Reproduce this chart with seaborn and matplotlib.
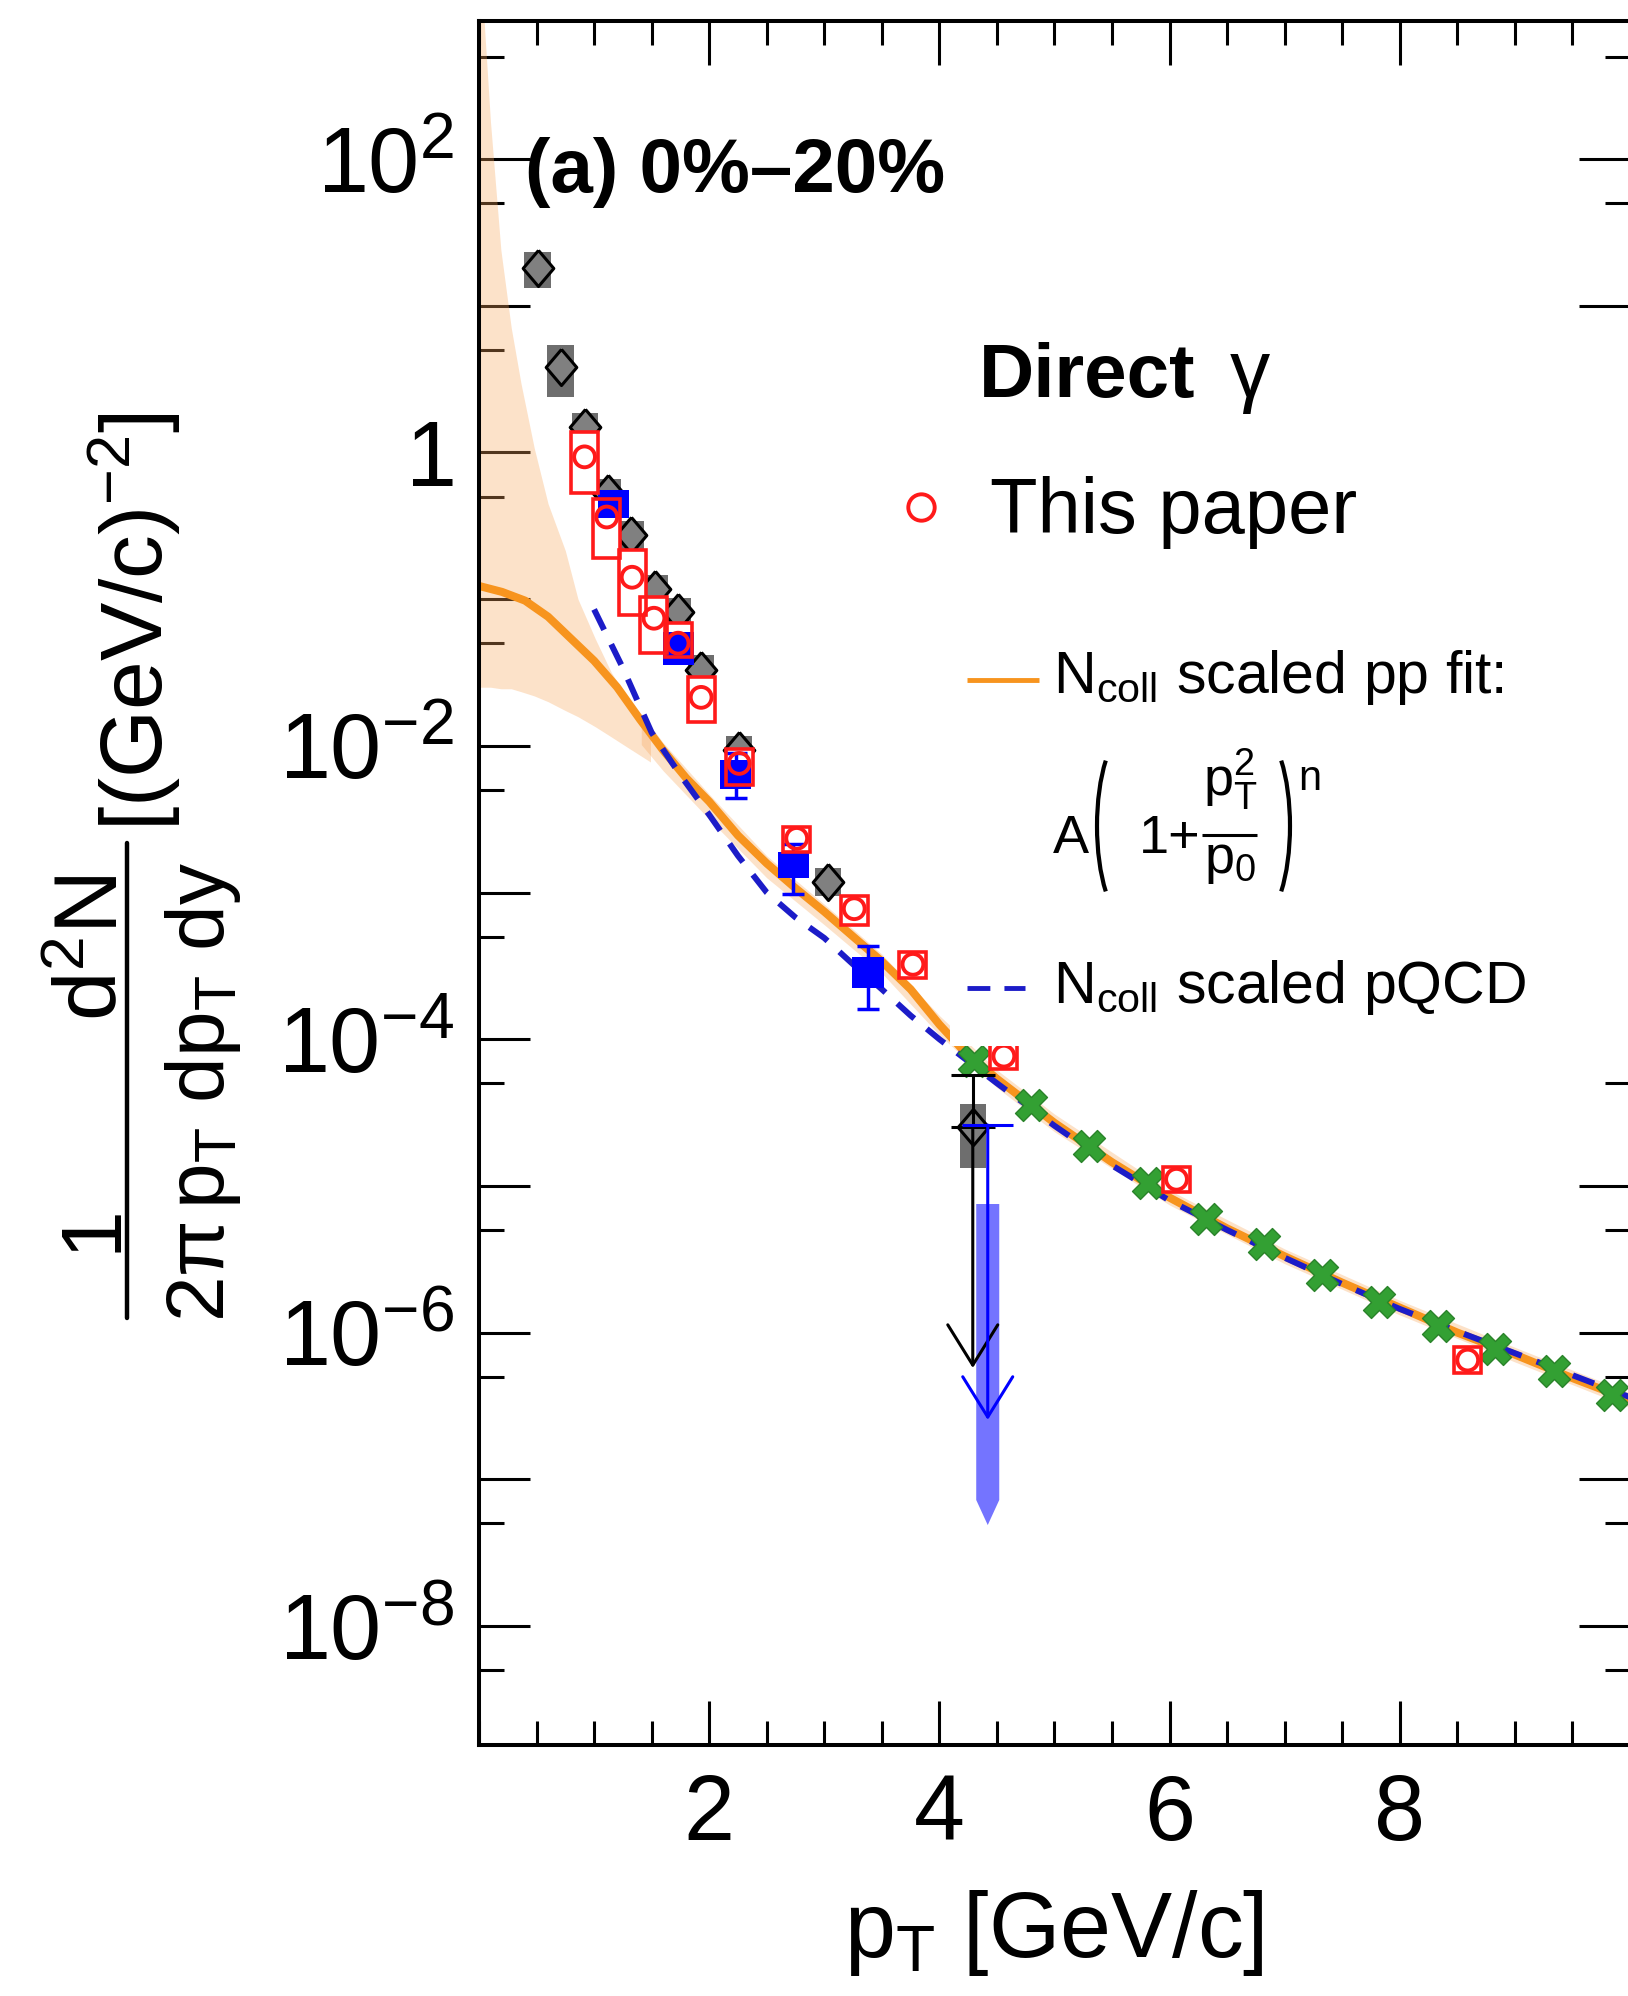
import matplotlib
matplotlib.use("Agg")
import matplotlib.pyplot as plt
from matplotlib.lines import Line2D
from matplotlib.patches import Rectangle, FancyArrowPatch, Arc
from matplotlib.ticker import (FixedLocator, LogLocator, MultipleLocator,
                               FuncFormatter, NullFormatter)
import numpy as np
import seaborn as sns

# ---------------- data ----------------
# N_coll scaled p+p fit: central curve
fit_pt = [0.0, 0.2, 0.4, 0.6, 0.8, 1.0, 1.2, 1.4, 1.6, 1.8, 2.0, 2.25, 2.5, 2.75,
          3.0, 3.25, 3.5, 3.75, 4.0, 4.2, 4.5, 4.75, 5.0, 5.5, 6.0, 6.5, 7.0, 7.5,
          8.0, 8.5, 9.0, 9.5, 10.0]
fit_y = [1.23e-1, 1.12e-1, 9.77e-2, 7.59e-2, 5.37e-2, 3.80e-2, 2.51e-2, 1.51e-2,
         9.33e-3, 6.03e-3, 4.17e-3, 2.45e-3, 1.58e-3, 1.07e-3, 7.41e-4, 5.01e-4,
         3.39e-4, 2.19e-4, 1.26e-4, 8.51e-5, 5.37e-5, 3.80e-5, 2.69e-5, 1.45e-5,
         8.32e-6, 5.13e-6, 3.31e-6, 2.19e-6, 1.48e-6, 1.00e-6, 7.08e-7, 4.90e-7,
         3.47e-7]

# fit uncertainty band, low-pT piece
band1_pt = [0.0, 0.05, 0.1, 0.19, 0.28, 0.365, 0.48, 0.60, 0.75, 0.86, 1.01,
            1.15, 1.29, 1.41, 1.49]
band1_lo = [2.51e-2, 2.51e-2, 2.51e-2, 2.45e-2, 2.45e-2, 2.34e-2, 2.19e-2, 2.00e-2,
            1.74e-2, 1.58e-2, 1.35e-2, 1.15e-2, 9.77e-3, 8.51e-3, 7.76e-3]
band1_hi = [3.98e3, 7.41e2, 1.78e2, 2.40e1, 7.08, 2.95, 1.07, 4.47e-1, 2.14e-1,
            1.00e-1, 5.37e-2, 3.16e-2, 2.14e-2, 1.58e-2, 1.38e-2]
# fit uncertainty band, high-pT piece
band2_pt = [1.41, 1.6, 2.0, 2.5, 3.0, 3.5, 4.0, 4.5, 5.0, 6.0, 7.0, 8.0, 9.0, 10.0]
band2_lo = [1.02e-2, 6.76e-3, 3.16e-3, 1.26e-3, 6.03e-4, 2.82e-4, 1.07e-4, 4.68e-5,
            2.34e-5, 7.41e-6, 2.95e-6, 1.32e-6, 6.31e-7, 3.09e-7]
band2_hi = [1.66e-2, 1.05e-2, 4.68e-3, 1.78e-3, 8.32e-4, 3.80e-4, 1.45e-4, 6.17e-5,
            3.09e-5, 9.33e-6, 3.72e-6, 1.66e-6, 7.94e-7, 3.89e-7]

# N_coll scaled pQCD
pqcd_pt = [1.0, 1.25, 1.5, 1.75, 2.0, 2.25, 2.5, 2.75, 3.0, 3.25, 3.5, 3.75, 4.0,
           4.25, 4.5, 5.0, 5.5, 6.0, 6.5, 7.0, 7.5, 8.0, 8.5, 9.0, 9.5, 10.0]
pqcd_y = [8.51e-2, 3.39e-2, 1.23e-2, 6.31e-3, 3.39e-3, 1.78e-3, 1.00e-3, 6.76e-4,
          4.90e-4, 3.24e-4, 2.19e-4, 1.45e-4, 1.00e-4, 7.08e-5, 5.01e-5, 2.57e-5,
          1.38e-5, 7.94e-6, 5.01e-6, 3.24e-6, 2.14e-6, 1.45e-6, 1.02e-6, 7.24e-7,
          5.13e-7, 3.63e-7]

# this paper (open red circles with systematic boxes)
red_pt = [0.917, 1.11, 1.33, 1.52, 1.73, 1.93, 2.26, 2.76, 3.26, 3.77, 4.56, 6.06, 8.59]
red_y = [0.933, 0.363, 0.141, 0.0741, 0.0501, 0.0214, 7.59e-3, 2.34e-3, 7.76e-4,
         3.24e-4, 7.67e-5, 1.11e-5, 6.50e-7]
red_sys_lo = [0.528, 0.191, 0.0780, 0.0430, 0.0403, 0.0145, 5.37e-3, 1.90e-3,
              5.97e-4, 2.63e-4, 6.31e-5, 9.16e-6, 5.28e-7]
red_sys_hi = [1.38, 0.479, 0.216, 0.103, 0.0687, 0.0295, 9.59e-3, 2.78e-3,
              9.44e-4, 3.93e-4, 9.33e-5, 1.355e-5, 7.94e-7]

# grey diamonds
gray_pt = [0.51, 0.71, 0.92, 1.12, 1.32, 1.53, 1.73, 1.93, 2.26, 3.03, 4.29]
gray_y = [18.1, 3.80, 1.48, 0.525, 0.275, 0.1175, 0.0813, 0.0331, 9.33e-3, 1.175e-3, 2.52e-5]
gray_sys_lo = [13.2, 2.39, 1.18, 0.42, 0.22, 0.094, 0.065, 0.0265, 7.5e-3, 9.4e-4, 1.32e-5]
gray_sys_hi = [23.2, 5.40, 1.85, 0.66, 0.34, 0.146, 0.102, 0.0414, 1.17e-2, 1.46e-3, 3.61e-5]
gray_lim_pt = 4.29
gray_lim_y = 2.52e-5
gray_lim_stat_hi = 5.70e-5
gray_lim_arrow_to = 5.74e-7

# blue squares
blue_pt = [1.17, 1.73, 2.23, 2.73, 3.38]
blue_y = [0.436, 0.0501, 6.70e-3, 1.53e-3, 2.90e-4]
blue_sys_lo = [0.356, 0.0355, 5.06e-3, 1.25e-3, 2.24e-4]
blue_sys_hi = [0.553, 0.0597, 8.02e-3, 1.90e-3, 3.62e-4]
blue_stat_lo = [0.41, 0.047, 4.4e-3, 9.8e-4, 1.60e-4]
blue_stat_hi = [0.46, 0.053, 8.9e-3, 2.14e-3, 4.34e-4]
blue_lim_pt = 4.42
blue_lim_y = 2.60e-5
blue_lim_arrow_to = 2.54e-7
blue_lim_band = [7.53e-6, 7.23e-8, 4.88e-8]   # top, start of tip, tip

# green crosses
green_pt = [4.30, 4.80, 5.30, 5.81, 6.32, 6.82, 7.32, 7.82, 8.33, 8.83, 9.34, 9.84]
green_y = [7.10e-5, 3.56e-5, 1.87e-5, 1.05e-5, 5.94e-6, 4.02e-6, 2.47e-6, 1.62e-6,
           1.11e-6, 7.73e-7, 5.47e-7, 3.76e-7]

# ---------------- style ----------------
sns.set_theme(style="ticks")
plt.rcParams["font.family"] = ["Liberation Sans", "DejaVu Sans"]
plt.rcParams.update({
    "mathtext.fontset": "custom",
    "mathtext.rm": "Liberation Sans",
    "mathtext.it": "Liberation Sans",
    "mathtext.bf": "Liberation Sans:bold",
    "mathtext.sf": "Liberation Sans",
    "axes.linewidth": 2.9,
    "axes.edgecolor": "black",
    "text.color": "black",
    "xtick.color": "black",
    "ytick.color": "black",
})

ORANGE = "#f7941e"
BAND = "#f8a75c"
DBLUE = "#1c1cc8"
RED = "#ff1a1a"
BLUE = "#0000ff"
GREEN = "#33a033"

# wide diamond used for the grey points
WIDE_DIAMOND = [(0, 1), (0.85, 0), (0, -1), (-0.85, 0), (0, 1)]

W, H = 1628, 1996
fig = plt.figure(figsize=(W / 100, H / 100), dpi=100)
ax = fig.add_axes([479 / W, 1 - 1745 / H, 1151 / W, 1724 / H])
ax.set_yscale("log")
ax.set_xlim(0, 10)
ax.set_ylim(10 ** -8.811, 10 ** 2.941)

# fit band and curves
ax.fill_between(band1_pt, band1_lo, band1_hi, color=BAND, alpha=0.33, lw=0, zorder=1)
ax.fill_between(band2_pt, band2_lo, band2_hi, color=BAND, alpha=0.33, lw=0, zorder=1)
sns.lineplot(x=fit_pt, y=fit_y, ax=ax, color=ORANGE, linewidth=5.8,
             estimator=None, sort=False, zorder=2)
sns.lineplot(x=pqcd_pt, y=pqcd_y, ax=ax, color=DBLUE, linewidth=4.3,
             linestyle=(0, (3.8, 2.7)), estimator=None, sort=False, zorder=3)

# green crosses
sns.scatterplot(x=green_pt, y=green_y, ax=ax, marker="X", s=23 ** 2, color=GREEN,
                edgecolor="#2a832a", linewidth=1.0, zorder=4)

# grey diamonds with systematic boxes
for x, lo, hi in zip(gray_pt, gray_sys_lo, gray_sys_hi):
    ax.add_patch(Rectangle((x - 0.115, lo), 0.23, hi - lo, facecolor="#6e6e6e",
                           edgecolor="none", zorder=5))
sns.scatterplot(x=gray_pt, y=gray_y, ax=ax, marker=WIDE_DIAMOND, s=26 ** 2,
                color="#808080", edgecolor="black", linewidth=2.2, zorder=6)
ax.errorbar([gray_lim_pt], [gray_lim_y], yerr=[[0], [gray_lim_stat_hi - gray_lim_y]],
            fmt="none", ecolor="black", elinewidth=2.2, capsize=15.5, capthick=2.2,
            zorder=6)
ax.add_patch(FancyArrowPatch((gray_lim_pt, gray_lim_y), (gray_lim_pt, gray_lim_arrow_to),
                             arrowstyle="->,head_length=29,head_width=18",
                             mutation_scale=1, lw=2.2, color="black",
                             shrinkA=0, shrinkB=0, zorder=6))

# blue upper limit with its systematic arrow band
bx = blue_lim_pt
ax.fill([bx - 0.1, bx + 0.1, bx + 0.1, bx, bx - 0.1],
        [blue_lim_band[0], blue_lim_band[0], blue_lim_band[1], blue_lim_band[2],
         blue_lim_band[1]], color="#7474ff", lw=0, zorder=5.5)
ax.hlines(blue_lim_y, bx - 0.22, bx + 0.22, color=BLUE, lw=2.2, zorder=7)
ax.add_patch(FancyArrowPatch((bx, blue_lim_y), (bx, blue_lim_arrow_to),
                             arrowstyle="->,head_length=29,head_width=18",
                             mutation_scale=1, lw=2.2, color=BLUE,
                             shrinkA=0, shrinkB=0, zorder=7))

# white interior of the red systematic boxes
for x, lo, hi in zip(red_pt, red_sys_lo, red_sys_hi):
    ax.add_patch(Rectangle((x - 0.1175, lo), 0.235, hi - lo, facecolor="white",
                           edgecolor="none", zorder=6.5))

# blue squares
for x, lo, hi in zip(blue_pt, blue_sys_lo, blue_sys_hi):
    ax.add_patch(Rectangle((x - 0.135, lo), 0.27, hi - lo, facecolor=BLUE,
                           edgecolor="none", zorder=7))
ax.errorbar(blue_pt, blue_y,
            yerr=[np.subtract(blue_y, blue_stat_lo), np.subtract(blue_stat_hi, blue_y)],
            fmt="none", ecolor=BLUE, elinewidth=2.5, capsize=8, capthick=2.5, zorder=7.5)
sns.scatterplot(x=blue_pt, y=blue_y, ax=ax, marker="s", s=16 ** 2, color=BLUE,
                edgecolor=BLUE, linewidth=0, zorder=7.6)

# red systematic box outlines and open circles
for x, lo, hi in zip(red_pt, red_sys_lo, red_sys_hi):
    ax.add_patch(Rectangle((x - 0.1175, lo), 0.235, hi - lo, facecolor="none",
                           edgecolor=RED, lw=2.6, zorder=9))
sns.scatterplot(x=red_pt, y=red_y, ax=ax, marker="o", s=15 ** 2, color=RED,
                edgecolor=RED, linewidth=2.8, zorder=10)
ax.collections[-1].set_facecolor("none")

# ---------------- axes ----------------
ax.xaxis.set_major_locator(FixedLocator([2, 4, 6, 8]))
ax.xaxis.set_minor_locator(MultipleLocator(0.5))
ax.xaxis.set_major_formatter(FuncFormatter(lambda v, p: f"{v:g}"))
ax.yaxis.set_major_locator(LogLocator(base=10, numticks=40))
ax.yaxis.set_minor_locator(LogLocator(base=10, subs=[5.0], numticks=40))
ax.yaxis.set_minor_formatter(NullFormatter())


def decade_label(v, pos):
    e = int(round(np.log10(v)))
    if e % 2:
        return ""
    if e == 0:
        return "$1$"
    return r"$10^{%d}$" % e


ax.yaxis.set_major_formatter(FuncFormatter(decade_label))
ax.tick_params(axis="x", which="major", direction="in", length=31.7, width=2.2,
               top=True, bottom=True, labelsize=66, pad=20)
ax.tick_params(axis="x", which="minor", direction="in", length=17.3, width=2.2,
               top=True, bottom=True)
ax.tick_params(axis="y", which="major", direction="in", length=36.7, width=2.2,
               left=True, right=True, labelsize=66, pad=18)
ax.tick_params(axis="y", which="minor", direction="in", length=18, width=2.2,
               left=True, right=True)
ax.set_xlabel("")
ax.set_ylabel("")

# x title
fig.text(0.6474, 0.0195, r"p$_{T}$ [GeV/c]", ha="center", va="baseline", fontsize=66)


# y title, assembled as a stacked fraction read bottom-to-top
def ytitle_part(px, py, s, size):
    fig.text(px / W, 1 - py / H, s, rotation=90, rotation_mode="anchor",
             ha="center", va="baseline", fontsize=size)


ytitle_part(115, 1228, "1", 62)
ytitle_part(118, 948, r"d$^{2}$N", 64)
fig.add_artist(Line2D([127 / W, 127 / W], [1 - 843 / H, 1 - 1318 / H],
                      lw=3.2, color="black", transform=fig.transFigure))
ytitle_part(224, 1092, r"2$\pi\,$p$_{T}$ dp$_{T}$ dy", 59)
ytitle_part(163, 622, r"[(GeV/c)$^{-2}$]", 63)

# ---------------- annotations and legend ----------------
def ax_xy(px, py):
    return (px - 479) / 1151, (1745 - py) / 1724


ax.add_patch(Rectangle((0.409, 0.4055), 0.6, 0.42, transform=ax.transAxes,
                       facecolor="white", edgecolor="none", zorder=15))
ax.text(0.040, 0.9008, "(a) 0%–20%", transform=ax.transAxes, fontsize=55,
        fontweight="bold", ha="left", va="baseline", zorder=20)
ax.text(0.4344, 0.7819, "Direct", transform=ax.transAxes, fontsize=55,
        fontweight="bold", ha="left", va="baseline", zorder=20)
ax.text(0.6525, 0.7819, "γ", transform=ax.transAxes, fontsize=58,
        ha="left", va="baseline", zorder=20)
ax.plot([0.384], [0.7181], "o", transform=ax.transAxes, mfc="none", mec=RED,
        ms=19, mew=2.8, zorder=20, clip_on=False)
ax.text(0.444, 0.703, "This paper", transform=ax.transAxes, fontsize=56,
        ha="left", va="baseline", zorder=20)
ax.plot([0.424, 0.4865], [0.6177, 0.6177], transform=ax.transAxes, color=ORANGE,
        lw=3.5, zorder=20, solid_capstyle="butt")
ax.text(0.4987, 0.6102, r"N$_{\rm coll}$ scaled pp fit:", transform=ax.transAxes,
        fontsize=42.5, ha="left", va="baseline", zorder=20)

# fit formula A(1 + pT^2/p0)^n
fkw = dict(transform=ax.transAxes, va="baseline", zorder=20)
ax.text(*ax_xy(1053, 853), "A", ha="left", fontsize=39, **fkw)
ax.text(*ax_xy(1139, 853), "1+", ha="left", fontsize=39, **fkw)
ax.text(*ax_xy(1230, 796), r"p$_{T}^{2}$", ha="center", fontsize=39, **fkw)
ax.text(*ax_xy(1230, 873), r"p$_{0}$", ha="center", fontsize=39, **fkw)
ax.text(*ax_xy(1298, 790), "n", ha="left", fontsize=30, **fkw)
bx0, by0 = ax_xy(1202, 835)
bx1, _ = ax_xy(1257, 835)
ax.plot([bx0, bx1], [by0, by0], transform=ax.transAxes, color="black", lw=2.2,
        zorder=20, solid_capstyle="butt")
pw, ph = 64 / 1151, 190 / 1724
ax.add_patch(Arc(ax_xy(1129, 826), pw, ph, theta1=118, theta2=242,
                 transform=ax.transAxes, color="black", lw=3.0, zorder=20))
ax.add_patch(Arc(ax_xy(1258, 826), pw, ph, theta1=-62, theta2=62,
                 transform=ax.transAxes, color="black", lw=3.0, zorder=20))

ax.plot([0.424, 0.474], [0.439, 0.439], transform=ax.transAxes, color=DBLUE,
        lw=3.5, linestyle=(0, (4.7, 2.9)), zorder=20, dash_capstyle="butt")
ax.text(0.4987, 0.4304, r"N$_{\rm coll}$ scaled pQCD", transform=ax.transAxes,
        fontsize=42.5, ha="left", va="baseline", zorder=20)

fig.savefig("out.png", dpi=100)
